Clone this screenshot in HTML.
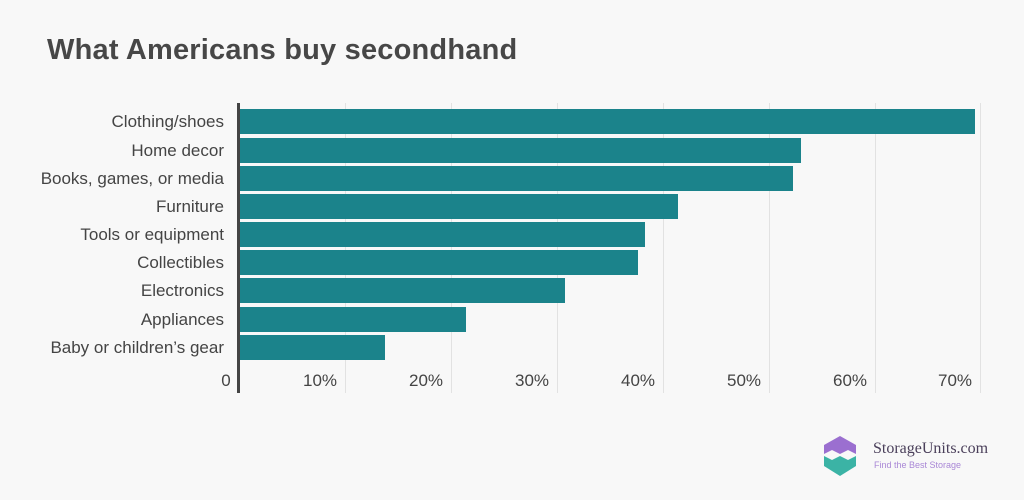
<!DOCTYPE html>
<html><head><meta charset="utf-8"><style>
body{margin:0;width:1024px;height:500px;background:#f8f8f8;font-family:"Liberation Sans",sans-serif;overflow:hidden;position:relative}
.t{position:absolute;left:47px;top:34px;font-size:29px;font-weight:bold;color:#474747;letter-spacing:0.2px}
.g{position:absolute;top:103px;height:290px;width:1px;background:#e2e2e2}
.b{position:absolute;left:240px;height:25px;background:#1b838b}
.l{position:absolute;right:800px;font-size:17px;color:#444;white-space:nowrap;line-height:25px}
.x{position:absolute;top:371px;font-size:17px;color:#444;width:60px;text-align:center;margin-left:-30px}
</style></head><body>
<div class="t">What Americans buy secondhand</div>
<div class="g" style="left:345px"></div><div class="g" style="left:451px"></div><div class="g" style="left:557px"></div><div class="g" style="left:663px"></div><div class="g" style="left:769px"></div><div class="g" style="left:875px"></div><div class="g" style="left:980px"></div>
<div style="position:absolute;left:237px;top:103px;width:3px;height:290px;background:#444"></div>
<div class="b" style="top:109px;width:735px"></div>
<div class="b" style="top:138px;width:561px"></div>
<div class="b" style="top:166px;width:553px"></div>
<div class="b" style="top:194px;width:438px"></div>
<div class="b" style="top:222px;width:405px"></div>
<div class="b" style="top:250px;width:398px"></div>
<div class="b" style="top:278px;width:325px"></div>
<div class="b" style="top:307px;width:226px"></div>
<div class="b" style="top:335px;width:145px"></div>
<div class="l" style="top:109px">Clothing/shoes</div>
<div class="l" style="top:138px">Home decor</div>
<div class="l" style="top:166px">Books, games, or media</div>
<div class="l" style="top:194px">Furniture</div>
<div class="l" style="top:222px">Tools or equipment</div>
<div class="l" style="top:250px">Collectibles</div>
<div class="l" style="top:278px">Electronics</div>
<div class="l" style="top:307px">Appliances</div>
<div class="l" style="top:335px">Baby or children’s gear</div>
<div class="x" style="left:226px">0</div>
<div class="x" style="left:320px">10%</div><div class="x" style="left:426px">20%</div><div class="x" style="left:532px">30%</div><div class="x" style="left:638px">40%</div><div class="x" style="left:744px">50%</div><div class="x" style="left:850px">60%</div><div class="x" style="left:955px">70%</div>
<svg style="position:absolute;left:822px;top:436px" width="40" height="40" viewBox="0 0 40 40">
<polygon points="18,0 34,9 34,18 26,14 18,18 10,14 2,18 2,9" fill="#9b6fd0"/>
<polygon points="2,20 10,24 18,20 26,24 34,20 34,30 18,40 2,30" fill="#3bb3a5"/>
</svg>
<div style="position:absolute;left:873px;top:440px;font-family:'Liberation Serif',serif;font-size:16px;color:#4a3f5a">StorageUnits.com</div>
<div style="position:absolute;left:874px;top:460px;font-size:9px;color:#a987d6">Find the Best Storage</div>
</body></html>
